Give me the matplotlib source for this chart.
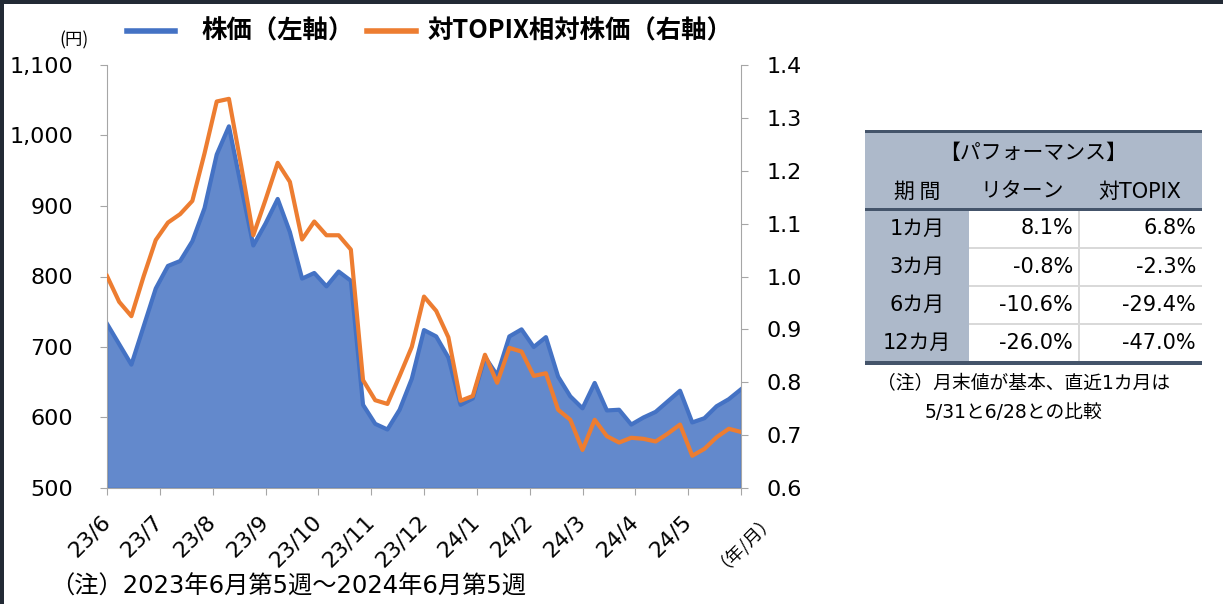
import numpy as np
import matplotlib.pyplot as plt
from matplotlib.patches import Rectangle
from matplotlib.lines import Line2D
from matplotlib.ticker import FuncFormatter

W, H = 1223, 604

# weekly data, 2023 June wk5 .. 2024 June wk5
price = [733, 704, 675, 729, 783, 815, 822, 850, 897, 973,
         1013, 928, 844, 875, 910, 863, 797, 805, 786, 807,
         794, 618, 591, 583, 611, 655, 724, 715, 685, 618,
         627, 686, 660, 715, 725, 700, 714, 658, 630, 613,
         649, 610, 611, 590, 600, 608, 623, 638, 593, 599,
         616, 626, 640]
rel_topix = [1.001, 0.952, 0.925, 1.000, 1.069, 1.102, 1.118, 1.143, 1.233, 1.331,
             1.336, 1.210, 1.078, 1.145, 1.215, 1.179, 1.070, 1.104, 1.078, 1.078,
             1.051, 0.804, 0.766, 0.759, 0.812, 0.867, 0.962, 0.935, 0.885, 0.765,
             0.774, 0.852, 0.799, 0.865, 0.858, 0.812, 0.817, 0.748, 0.729, 0.672,
             0.729, 0.698, 0.686, 0.695, 0.693, 0.688, 0.703, 0.720, 0.661, 0.674,
             0.696, 0.712, 0.706]
month_labels = ['23/6', '23/7', '23/8', '23/9', '23/10', '23/11', '23/12',
                '24/1', '24/2', '24/3', '24/4', '24/5']
series_names = ['株価（左軸）', '対TOPIX相対株価（右軸）']

# performance table
periods = ['1カ月', '3カ月', '6カ月', '12カ月']
ret = [8.1, -0.8, -10.6, -26.0]
ret_topix = [6.8, -2.3, -29.4, -47.0]

JP = ['Noto Sans CJK JP', 'DejaVu Sans']
NUM = ['DejaVu Sans', 'Noto Sans CJK JP']
plt.rcParams['font.family'] = NUM

BLUE = '#4472C4'
ORANGE = '#ED7D31'
GRID = '#A6A6A6'

fig = plt.figure(figsize=(W / 100, H / 100), dpi=100)
ax = fig.add_axes([107 / W, 1 - 488 / H, (741 - 107) / W, (488 - 65) / H])
ax2 = ax.twinx()

weeks = np.arange(len(price))
ax.fill_between(weeks, 500, price, facecolor='#6389CC', edgecolor=BLUE, lw=1.2, zorder=1)
ax.plot(weeks, price, color=BLUE, lw=3, zorder=2)
ax2.plot(weeks, rel_topix, color=ORANGE, lw=3)

n = len(price) - 1
ax.set_xlim(0, n)
ax.set_ylim(500, 1100)
ax2.set_ylim(0.6, 1.4)
ax.set_yticks(np.arange(500, 1101, 100))
ax2.set_yticks(np.arange(0.6, 1.41, 0.1))
ax.yaxis.set_major_formatter(FuncFormatter(lambda v, _: f'{v:,.0f}'))
ax2.yaxis.set_major_formatter(FuncFormatter(lambda v, _: f'{v:.1f}'))

ax.set_xticks(np.arange(13) * n / 12)
ax.set_xticklabels(month_labels + [''], rotation=45, ha='right', va='center',
                   rotation_mode='anchor')

for a in (ax, ax2):
    a.spines['top'].set_visible(False)
    for s in a.spines.values():
        s.set_color(GRID)
ax.spines['right'].set_visible(False)
ax2.spines['left'].set_visible(False)
ax2.spines['bottom'].set_visible(False)

ax.tick_params(axis='y', direction='out', length=5, color=GRID, labelsize=16, pad=19.5)
ax.tick_params(axis='x', direction='out', length=5, color=GRID, labelsize=16, pad=17)
ax2.tick_params(axis='y', direction='out', length=5, color=GRID, labelsize=16, pad=13.5)


def fx(x):
    return x / W


def fy(y):
    return 1 - y / H


# legend, drawn by hand so the gaps match the original
for (x0, x1, tx), col, name in zip([(127, 175, 201), (367, 416, 428)],
                                   [BLUE, ORANGE], series_names):
    fig.add_artist(Line2D([fx(x0), fx(x1)], [fy(31), fy(31)], color=col, lw=4,
                          transform=fig.transFigure))
    fig.text(fx(tx), fy(31), name, ha='left', va='center', size=18.3,
             weight='bold', family=JP)

fig.text(fx(74), fy(40), '(円)', ha='center', va='center', size=12.5, family=JP)
fig.text(fx(741), fy(537), '（年/月）', ha='center', va='center', size=13,
         rotation=45, family=JP)
fig.text(fx(50), fy(587), '（注）2023年6月第5週～2024年6月第5週', ha='left',
         va='center', size=17.5, family=NUM)


def box(x0, y0, x1, y1, color):
    fig.add_artist(Rectangle((fx(x0), fy(y1)), (x1 - x0) / W, (y1 - y0) / H,
                             transform=fig.transFigure, facecolor=color, lw=0))


def txt(x, y, s, ha='center', size=15, family=NUM):
    fig.text(fx(x), fy(y), s, ha=ha, va='center', size=size, family=family)


# table
TL, TR, C1, C2 = 865, 1202, 969, 1079
HEAD = '#ADB9CA'
DARK = '#44546A'
SEP = '#D9D9D9'
box(TL, 132, TR, 210, HEAD)
box(TL, 210, C1, 362, HEAD)
box(TL, 130, TR, 133.5, DARK)
box(TL, 208.3, TR, 210.5, DARK)
box(TL, 361, TR, 364.5, DARK)
row_y = [228.5, 266.8, 305, 343.3]
for sep in (247.7, 285.9, 324.1):
    box(C1, sep - 1, TR, sep + 1, SEP)
box(C2 - 1, 210.5, C2 + 1, 361, SEP)

txt(1033, 153, '【パフォーマンス】', family=JP)
txt(917, 191.5, '期 間', family=JP)
txt(1022, 191.5, 'リターン', family=JP)
txt(1140, 191.5, '対TOPIX')
for y, p, r1, r2 in zip(row_y, periods, ret, ret_topix):
    txt(917, y, p)
    txt(1073, y, f'{r1:.1f}%', ha='right')
    txt(1196, y, f'{r2:.1f}%', ha='right')

txt(877, 384, '（注）月末値が基本、直近1カ月は', ha='left', size=13.5)
txt(925, 413, '5/31と6/28との比較', ha='left', size=13.5)

# frame edges of the original slide
box(0, 0, W, 3.5, '#222A35')
box(0, 0, 4, H, '#222A35')

fig.savefig('out.png', dpi=100)
